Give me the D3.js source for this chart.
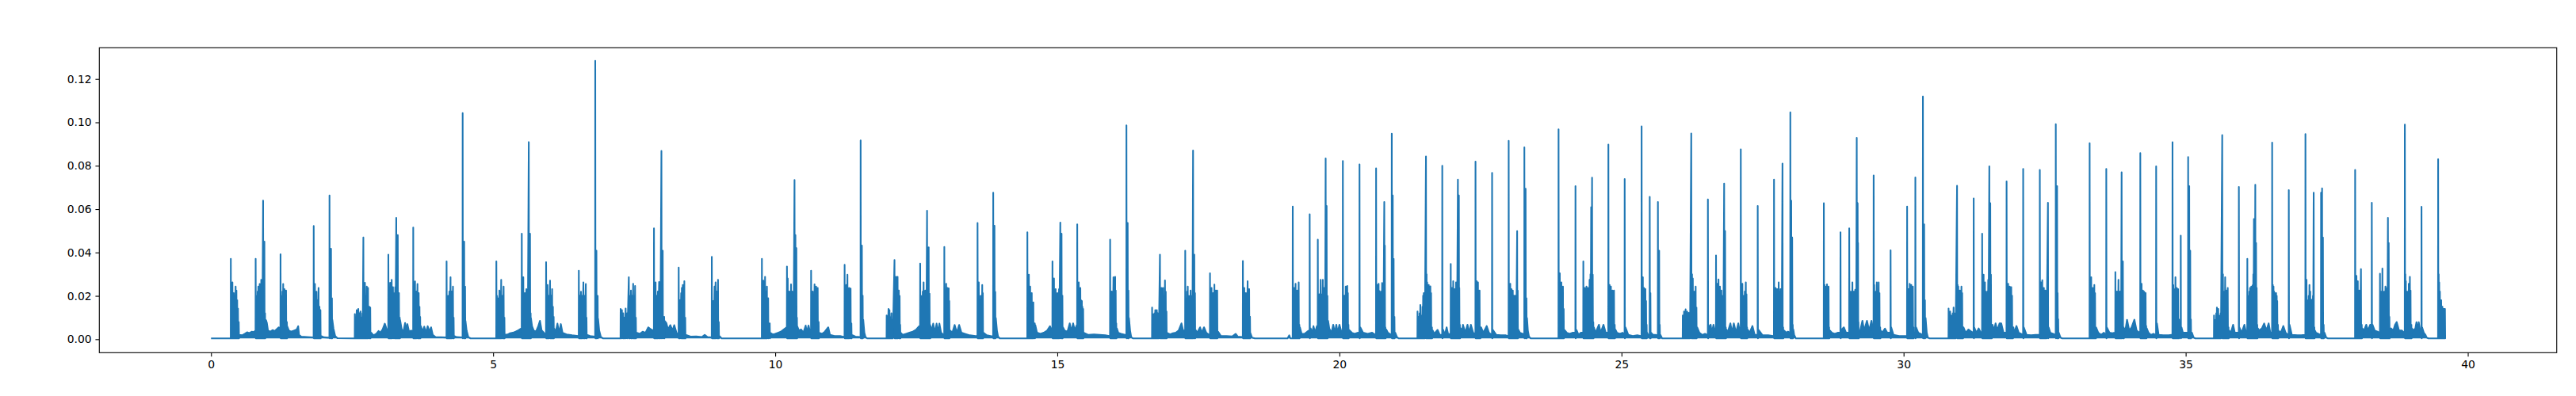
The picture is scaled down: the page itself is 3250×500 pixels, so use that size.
<!DOCTYPE html>
<html><head><meta charset="utf-8">
<script src="https://cdnjs.cloudflare.com/ajax/libs/d3/7.8.5/d3.min.js"></script>
<style>body{margin:0;background:#fff}svg{display:block}</style>
</head><body><svg id="chart" width="3250" height="500"></svg>
<script>
// ---- axis settings ----
const xTicks = [0, 5, 10, 15, 20, 25, 30, 35, 40];
const yTicks = [0, 0.02, 0.04, 0.06, 0.08, 0.10, 0.12];
const xDomain = [-1.98, 41.576];
const yDomain = [-0.0062, 0.1344];
const BASE = 0.0004; // quiet baseline level

// ---- noise floor / baseline trace: [x, value] ----
const floorPts = [
[0,0.0004],[0.34,0.0004],
[0.50,0.002],[0.55,0.0018],[0.60,0.0025],[0.64,0.0032],[0.68,0.0028],[0.72,0.0035],[0.76,0.0033],[0.785,0.004],
[0.975,0.0088],[0.99,0.0075],[1.01,0.004],[1.05,0.0035],[1.09,0.0042],[1.13,0.0038],[1.17,0.0048],[1.20,0.0055],[1.225,0.005],
[1.35,0.006],[1.38,0.004],[1.42,0.0035],[1.47,0.004],[1.52,0.0045],[1.545,0.006],[1.56,0.002],[1.60,0.0012],[1.70,0.001],[1.81,0.0008],
[1.95,0.0015],[2.00,0.0009],[2.09,0.0007],
[2.15,0.009],[2.17,0.005],[2.20,0.0015],[2.24,0.0005],[2.54,0.0004],
[2.84,0.003],[2.88,0.0018],[2.93,0.0025],[2.97,0.0038],[3.00,0.003],[3.04,0.0045],[3.08,0.0072],[3.12,0.004],[3.14,0.003],
[3.35,0.009],[3.38,0.0045],[3.41,0.0035],[3.44,0.0075],[3.46,0.004],[3.48,0.007],[3.51,0.0035],[3.55,0.004],[3.58,0.003],
[3.72,0.006],[3.75,0.0035],[3.78,0.0058],[3.81,0.003],[3.84,0.006],[3.87,0.0035],[3.90,0.0055],[3.93,0.002],[3.98,0.001],[4.17,0.0008],
[4.31,0.0015],[4.35,0.001],[4.45,0.0008],
[4.51,0.0085],[4.53,0.004],[4.56,0.001],[4.60,0.0004],[5.05,0.0004],
[5.21,0.002],[5.26,0.0022],[5.30,0.0028],[5.35,0.003],[5.40,0.0035],[5.45,0.0042],[5.50,0.005],
[5.67,0.0098],[5.69,0.006],[5.72,0.004],[5.76,0.0035],[5.80,0.006],[5.83,0.0085],[5.86,0.004],[5.90,0.003],[5.93,0.002],
[6.08,0.005],[6.11,0.0035],[6.14,0.0072],[6.17,0.003],[6.20,0.007],[6.23,0.003],[6.30,0.0022],[6.40,0.0018],[6.51,0.0015],
[6.66,0.002],[6.72,0.0015],[6.80,0.0012],
[6.86,0.0095],[6.88,0.004],[6.91,0.001],[6.95,0.0004],[7.24,0.0004],
[7.54,0.003],[7.60,0.0025],[7.65,0.0035],[7.70,0.003],[7.75,0.0055],[7.80,0.0045],[7.84,0.004],
[8.04,0.0085],[8.07,0.0075],[8.10,0.0045],[8.14,0.0065],[8.18,0.004],[8.21,0.0065],[8.25,0.003],[8.28,0.002],
[8.42,0.002],[8.50,0.0012],[8.60,0.0013],[8.70,0.001],[8.75,0.002],[8.80,0.001],[8.87,0.0008],
[9.01,0.0015],[9.05,0.0004],[9.75,0.0004],
[9.91,0.003],[9.96,0.0022],[10.00,0.0025],[10.05,0.003],[10.10,0.0035],[10.15,0.0045],[10.20,0.0055],
[10.39,0.006],[10.42,0.004],[10.46,0.0045],[10.50,0.003],[10.54,0.0063],[10.56,0.003],[10.59,0.0063],[10.62,0.003],
[10.78,0.003],[10.83,0.0025],[10.88,0.0035],[10.94,0.0055],[10.97,0.002],[11.05,0.0015],[11.15,0.0015],[11.22,0.001],
[11.36,0.002],[11.42,0.0012],[11.50,0.001],
[11.56,0.009],[11.58,0.003],[11.60,0.001],[11.63,0.0004],[11.96,0.0004],
[12.225,0.003],[12.26,0.002],[12.32,0.0025],[12.38,0.003],[12.44,0.0035],[12.50,0.0045],[12.55,0.006],
[12.755,0.006],[12.77,0.003],[12.80,0.0072],[12.83,0.003],[12.86,0.0072],[12.89,0.003],[12.91,0.0072],[12.94,0.003],[12.98,0.002],
[13.10,0.004],[13.14,0.003],[13.18,0.0066],[13.22,0.003],[13.26,0.0066],[13.30,0.003],[13.36,0.0025],[13.45,0.0018],[13.55,0.0015],
[13.69,0.003],[13.75,0.0018],[13.85,0.0013],
[13.91,0.0098],[13.93,0.004],[13.95,0.0012],[13.98,0.0004],[14.45,0.0004],
[14.61,0.0065],[14.64,0.003],[14.70,0.0025],[14.76,0.003],[14.82,0.004],[14.87,0.006],[14.90,0.004],
[15.10,0.0055],[15.13,0.004],[15.18,0.0035],[15.22,0.0073],[15.25,0.0035],[15.28,0.0073],[15.31,0.004],[15.34,0.0063],
[15.47,0.003],[15.55,0.002],[15.65,0.0022],[15.75,0.002],[15.85,0.0018],[15.92,0.0015],
[16.055,0.005],[16.08,0.003],[16.13,0.0025],[16.20,0.002],
[16.27,0.0098],[16.29,0.004],[16.31,0.001],[16.34,0.0004],[16.67,0.0004],
[16.94,0.003],[17.00,0.0022],[17.05,0.0028],[17.10,0.003],[17.15,0.004],[17.20,0.0073],[17.23,0.004],[17.26,0.004],
[17.45,0.0043],[17.48,0.003],[17.53,0.0055],[17.56,0.003],[17.60,0.0055],[17.64,0.003],[17.69,0.002],
[17.85,0.0035],[17.90,0.0015],[18.00,0.0015],[18.10,0.0013],[18.16,0.0025],[18.20,0.0012],[18.28,0.001],
[18.42,0.003],[18.45,0.0008],[18.50,0.0004],[19.08,0.0004],[19.11,0.0018],[19.13,0.0004],[19.16,0.0004],
[19.30,0.0055],[19.33,0.0025],[19.38,0.0025],[19.43,0.0035],[19.46,0.004],
[19.49,0.005],[19.52,0.003],[19.54,0.006],[19.57,0.003],[19.60,0.006],[19.61,0.004],
[19.80,0.0085],[19.82,0.005],[19.86,0.003],[19.89,0.0067],[19.92,0.003],[19.945,0.0067],[19.97,0.003],[20.00,0.0067],[20.04,0.003],[20.05,0.0025],
[20.17,0.0043],[20.22,0.003],[20.27,0.0025],[20.33,0.003],[20.35,0.002],
[20.37,0.0055],[20.42,0.003],[20.50,0.0025],[20.58,0.003],[20.64,0.002],
[20.83,0.0045],[20.86,0.003],[20.92,0.002],
[20.99,0.003],[21.02,0.001],[21.05,0.0004],[21.37,0.0004],
[21.655,0.004],[21.68,0.0025],[21.74,0.0043],[21.78,0.002],[21.81,0.002],
[21.84,0.0043],[21.87,0.002],[21.90,0.0055],[21.93,0.002],[21.96,0.0025],
[22.15,0.005],[22.17,0.003],[22.19,0.0067],[22.23,0.003],[22.27,0.0067],[22.30,0.003],[22.33,0.0067],[22.37,0.003],[22.40,0.0025],
[22.51,0.0055],[22.55,0.003],[22.61,0.0061],[22.65,0.003],[22.70,0.002],
[22.72,0.0043],[22.78,0.002],[22.86,0.0018],[22.95,0.0018],[22.99,0.0015],
[23.17,0.0045],[23.20,0.003],[23.25,0.0025],[23.27,0.002],
[23.325,0.0098],[23.34,0.004],[23.36,0.0012],[23.39,0.0004],[23.87,0.0004],
[23.99,0.0043],[24.03,0.003],[24.08,0.0025],[24.13,0.003],[24.17,0.003],
[24.20,0.0043],[24.24,0.002],[24.28,0.003],[24.31,0.003],
[24.51,0.0055],[24.54,0.003],[24.60,0.0067],[24.63,0.003],[24.68,0.0067],[24.72,0.003],[24.75,0.003],
[24.89,0.0045],[24.92,0.003],[24.97,0.0025],[25.02,0.003],[25.05,0.002],
[25.07,0.0055],[25.12,0.002],[25.20,0.0015],[25.28,0.0018],[25.34,0.0015],
[25.455,0.003],[25.475,0.0018],[25.49,0.002],
[25.525,0.003],[25.56,0.002],[25.60,0.002],[25.635,0.0018],
[25.69,0.002],[25.72,0.0004],[26.07,0.0004],
[26.34,0.0055],[26.38,0.003],[26.43,0.002],[26.48,0.0025],[26.52,0.002],
[26.54,0.0055],[26.58,0.0067],[26.60,0.003],[26.63,0.0067],[26.66,0.003],
[26.86,0.0045],[26.88,0.003],[26.93,0.0073],[26.96,0.003],[26.99,0.0073],[27.03,0.003],[27.07,0.0073],[27.10,0.003],
[27.235,0.0045],[27.27,0.003],[27.32,0.0061],[27.36,0.002],[27.40,0.002],
[27.43,0.0043],[27.50,0.0018],[27.60,0.0018],[27.69,0.0015],
[27.88,0.004],[27.92,0.003],[27.95,0.0035],[27.98,0.003],
[28.045,0.0045],[28.06,0.002],[28.09,0.0004],[28.57,0.0004],
[28.695,0.004],[28.73,0.003],[28.78,0.0025],[28.83,0.003],[28.87,0.003],
[28.90,0.0043],[28.94,0.0055],[28.98,0.003],[29.02,0.003],
[29.23,0.004],[29.27,0.0085],[29.30,0.004],[29.35,0.0085],[29.39,0.004],[29.43,0.0085],[29.46,0.003],
[29.595,0.004],[29.62,0.003],[29.67,0.0049],[29.71,0.003],[29.75,0.003],
[29.78,0.0055],[29.82,0.002],[29.92,0.0015],[30.00,0.0015],[30.05,0.0015],
[30.19,0.003],
[30.22,0.0055],[30.26,0.003],[30.30,0.0025],[30.33,0.002],
[30.39,0.0098],[30.41,0.003],[30.43,0.0008],[30.46,0.0004],[30.78,0.0004],
[31.06,0.0055],[31.10,0.003],[31.15,0.0045],[31.20,0.0035],[31.23,0.003],
[31.25,0.0055],[31.29,0.003],[31.33,0.005],[31.37,0.003],[31.38,0.003],
[31.575,0.0067],[31.60,0.004],[31.63,0.0073],[31.66,0.004],[31.70,0.0073],[31.73,0.0073],[31.77,0.003],[31.82,0.003],
[31.945,0.0055],[31.96,0.003],[32.00,0.0061],[32.04,0.003],[32.08,0.0025],[32.11,0.002],
[32.13,0.0055],[32.18,0.002],[32.26,0.0018],[32.34,0.002],[32.40,0.002],
[32.57,0.0055],[32.60,0.003],[32.65,0.0025],[32.69,0.002],
[32.75,0.003],[32.78,0.0008],[32.81,0.0004],[33.28,0.0004],
[33.41,0.0055],[33.45,0.003],[33.50,0.002],[33.55,0.003],[33.58,0.002],
[33.60,0.0055],[33.65,0.003],[33.70,0.0028],[33.74,0.003],
[33.91,0.005],[33.93,0.004],[33.96,0.009],[34.00,0.004],[34.04,0.0055],[34.09,0.009],[34.13,0.004],[34.18,0.003],
[34.31,0.005],[34.34,0.003],[34.38,0.002],[34.43,0.0025],[34.46,0.002],
[34.49,0.0073],[34.52,0.002],[34.60,0.0018],[34.70,0.0018],[34.75,0.002],
[34.89,0.005],
[34.925,0.0055],[34.95,0.003],[35.00,0.003],[35.03,0.003],
[35.11,0.003],[35.14,0.0008],[35.17,0.0004],[35.49,0.0004],
[35.77,0.004],[35.80,0.003],[35.84,0.0067],[35.87,0.003],[35.92,0.003],[35.93,0.003],
[35.95,0.0055],[35.99,0.003],[36.04,0.0067],[36.07,0.003],[36.08,0.003],
[36.28,0.005],[36.30,0.004],[36.35,0.005],[36.39,0.0073],[36.43,0.004],[36.47,0.0073],[36.50,0.003],[36.52,0.003],
[36.645,0.004],[36.67,0.003],[36.70,0.004],[36.73,0.0061],[36.77,0.003],[36.81,0.002],
[36.84,0.0067],[36.88,0.002],[36.98,0.0018],[37.05,0.0018],[37.11,0.002],
[37.29,0.004],[37.31,0.003],[37.35,0.0025],[37.39,0.002],
[37.46,0.003],[37.49,0.0008],[37.52,0.0004],[37.99,0.0004],
[38.13,0.005],[38.16,0.004],[38.20,0.0067],[38.23,0.004],[38.27,0.0067],[38.29,0.004],
[38.31,0.0067],[38.35,0.004],[38.40,0.0035],[38.43,0.003],
[38.64,0.005],[38.68,0.004],[38.71,0.0067],[38.74,0.0079],[38.78,0.004],[38.83,0.004],[38.87,0.003],
[39.01,0.005],[39.03,0.004],[39.07,0.005],[39.09,0.0079],[39.12,0.004],[39.13,0.0079],[39.16,0.003],[39.17,0.003],
[39.19,0.0055],[39.22,0.003],[39.25,0.002],[39.27,0.0008],[39.30,0.0004],[39.46,0.0004],
[39.596,0.0005]
];

// ---- spike tips: [x, value] ----
const peaks = [
[0.351,0.0371],[0.365,0.021],[0.379,0.0262],[0.391,0.019],[0.403,0.0213],[0.417,0.02],[0.436,0.0243],[0.45,0.0225],[0.464,0.018],[0.478,0.0142],[0.492,0.008],
[0.791,0.0371],[0.803,0.02],[0.815,0.02],[0.826,0.022],[0.838,0.0243],[0.85,0.024],[0.862,0.0255],[0.876,0.025],[0.89,0.0274],[0.905,0.026],[0.923,0.0639],[0.935,0.03],[0.946,0.045],[0.958,0.012],
[1.232,0.0392],[1.243,0.02],[1.255,0.02],[1.267,0.022],[1.279,0.0255],[1.29,0.02],[1.302,0.0231],[1.316,0.018],[1.33,0.0225],[1.345,0.008],
[1.82,0.0522],[1.831,0.02],[1.842,0.0255],[1.856,0.02],[1.869,0.0219],[1.887,0.018],[1.906,0.0237],[1.922,0.015],[1.939,0.0134],
[2.1,0.0663],[2.127,0.0417],[2.143,0.0189],
[2.549,0.0116],[2.565,0.009],[2.582,0.0134],[2.596,0.01],[2.61,0.014],[2.63,0.012],[2.649,0.0128],[2.667,0.01],[2.684,0.012],[2.7,0.0469],[2.715,0.02],[2.728,0.026],[2.745,0.02],[2.761,0.0243],[2.772,0.02],[2.783,0.0237],[2.805,0.015],[2.822,0.0146],
[3.143,0.039],[3.158,0.02],[3.175,0.026],[3.19,0.02],[3.202,0.0274],[3.225,0.024],[3.25,0.0213],[3.265,0.024],[3.283,0.056],[3.297,0.03],[3.31,0.048],[3.331,0.0213],[3.345,0.01],
[3.584,0.0515],[3.6,0.02],[3.616,0.0267],[3.637,0.022],[3.659,0.0255],[3.67,0.02],[3.681,0.0213],[3.695,0.015],[3.707,0.0103],
[4.175,0.0359],[4.19,0.02],[4.207,0.02],[4.225,0.022],[4.245,0.0286],[4.265,0.022],[4.288,0.0243],[4.3,0.01],
[4.46,0.1043],[4.487,0.045],[4.503,0.0243],
[5.057,0.0359],[5.07,0.02],[5.084,0.0189],[5.098,0.018],[5.111,0.0225],[5.127,0.02],[5.143,0.0274],[5.165,0.02],[5.186,0.0243],[5.2,0.01],
[5.508,0.0487],[5.52,0.022],[5.535,0.0286],[5.548,0.02],[5.562,0.0213],[5.575,0.02],[5.589,0.0231],[5.61,0.022],[5.632,0.0909],[5.654,0.0487],[5.665,0.012],
[5.939,0.0355],[5.952,0.02],[5.965,0.025],[5.985,0.02],[6.009,0.027],[6.028,0.02],[6.046,0.0231],[6.06,0.015],[6.073,0.0103],
[6.519,0.0316],[6.537,0.02],[6.557,0.0219],[6.578,0.02],[6.6,0.0262],[6.62,0.02],[6.643,0.0255],[6.655,0.01],
[6.81,0.1284],[6.831,0.0408],[6.853,0.02],
[7.26,0.014],[7.283,0.0134],[7.305,0.012],[7.325,0.01],[7.349,0.0142],[7.375,0.012],[7.405,0.0286],[7.42,0.02],[7.443,0.0225],[7.46,0.02],[7.482,0.0256],[7.5,0.02],[7.516,0.0246],[7.53,0.01],
[7.851,0.0511],[7.865,0.02],[7.88,0.0262],[7.9,0.02],[7.92,0.022],[7.942,0.0264],[7.96,0.022],[7.983,0.0868],[8.006,0.0408],[8.032,0.0103],
[8.289,0.0331],[8.31,0.018],[8.333,0.0213],[8.345,0.0237],[8.362,0.025],[8.375,0.02],[8.389,0.0268],[8.405,0.01],
[8.876,0.038],[8.89,0.015],[8.907,0.0177],[8.925,0.0243],[8.943,0.0262],[8.965,0.022],[8.986,0.0274],[9.0,0.008],
[9.764,0.0371],[9.778,0.025],[9.79,0.027],[9.805,0.022],[9.82,0.0288],[9.838,0.022],[9.853,0.0243],[9.875,0.0189],[9.903,0.0073],
[10.208,0.0335],[10.222,0.028],[10.235,0.02],[10.25,0.022],[10.265,0.02],[10.28,0.0253],[10.3,0.022],[10.32,0.02],[10.342,0.0734],[10.358,0.048],[10.375,0.042],[10.385,0.01],
[10.636,0.0316],[10.65,0.02],[10.665,0.022],[10.68,0.02],[10.697,0.0253],[10.71,0.02],[10.725,0.0243],[10.74,0.02],[10.753,0.0237],[10.77,0.008],
[11.23,0.0343],[11.245,0.022],[11.26,0.025],[11.28,0.0298],[11.295,0.022],[11.31,0.0237],[11.336,0.0234],[11.35,0.0073],
[11.514,0.0917],[11.536,0.0432],[11.55,0.0201],
[11.975,0.011],[11.99,0.009],[12.008,0.014],[12.025,0.0134],[12.04,0.0102],[12.06,0.012],[12.08,0.009],[12.114,0.0365],[12.128,0.02],[12.142,0.0288],[12.155,0.022],[12.169,0.0288],[12.191,0.0225],[12.205,0.02],[12.215,0.0067],
[12.569,0.0349],[12.585,0.02],[12.6,0.0189],[12.615,0.022],[12.63,0.0262],[12.645,0.022],[12.66,0.0225],[12.675,0.02],[12.691,0.0593],[12.705,0.03],[12.72,0.0424],[12.735,0.021],[12.745,0.0067],
[12.997,0.0426],[13.012,0.02],[13.03,0.0256],[13.042,0.02],[13.053,0.0237],[13.064,0.02],[13.075,0.0235],[13.085,0.0176],
[13.586,0.0536],[13.597,0.02],[13.608,0.0262],[13.625,0.0183],[13.64,0.02],[13.655,0.018],[13.669,0.025],[13.68,0.0213],
[13.864,0.0676],[13.886,0.0523],[13.9,0.0218],
[14.469,0.0493],[14.482,0.02],[14.496,0.0298],[14.51,0.02],[14.519,0.0243],[14.533,0.02],[14.547,0.0213],[14.561,0.015],[14.575,0.017],[14.6,0.0073],
[14.914,0.0359],[14.928,0.022],[14.941,0.028],[14.955,0.022],[14.97,0.0231],[14.985,0.02],[15.0,0.0213],[15.015,0.02],[15.03,0.0231],[15.053,0.0538],[15.075,0.0487],[15.09,0.0201],
[15.353,0.053],[15.366,0.02],[15.38,0.0262],[15.395,0.02],[15.408,0.0237],[15.42,0.018],[15.435,0.0176],[15.445,0.015],[15.458,0.014],
[15.936,0.0459],[15.95,0.02],[15.965,0.022],[15.98,0.02],[15.995,0.0286],[16.01,0.02],[16.025,0.0288],[16.035,0.0225],[16.045,0.0073],
[16.225,0.0986],[16.247,0.0536],[16.26,0.0225],
[16.68,0.0146],[16.695,0.0115],[16.708,0.0103],[16.722,0.012],[16.736,0.0134],[16.75,0.0103],[16.764,0.0134],[16.78,0.012],[16.795,0.011],[16.819,0.039],[16.833,0.02],[16.847,0.0237],[16.862,0.02],[16.875,0.0237],[16.893,0.02],[16.908,0.0271],[16.922,0.0219],[16.935,0.0128],
[17.267,0.0408],[17.28,0.0189],[17.29,0.0189],[17.3,0.022],[17.312,0.0243],[17.325,0.02],[17.337,0.0189],[17.35,0.02],[17.362,0.0225],[17.375,0.02],[17.39,0.02],[17.406,0.087],[17.428,0.039],[17.44,0.0213],
[17.706,0.0304],[17.72,0.02],[17.734,0.0237],[17.748,0.02],[17.76,0.0213],[17.772,0.02],[17.784,0.0252],[17.797,0.02],[17.81,0.0225],[17.822,0.02],[17.834,0.0225],
[18.289,0.0361],[18.3,0.02],[18.314,0.0237],[18.328,0.02],[18.342,0.0213],[18.355,0.02],[18.373,0.0268],[18.386,0.02],[18.4,0.0231],[18.415,0.0104],
[19.173,0.0612],[19.185,0.02],[19.2,0.0237],[19.212,0.02],[19.223,0.0256],[19.238,0.022],[19.25,0.0225],[19.263,0.02],[19.278,0.0262],[19.29,0.0067],
[19.473,0.0576],
[19.617,0.0459],[19.63,0.02],[19.645,0.0207],[19.655,0.02],[19.667,0.0274],[19.68,0.0207],[19.69,0.018],[19.706,0.0274],[19.72,0.02],[19.73,0.0237],[19.742,0.02],[19.756,0.0834],[19.773,0.0615],[19.787,0.02],
[20.061,0.0822],[20.075,0.02],[20.09,0.0201],[20.1,0.02],[20.112,0.0243],[20.125,0.02],[20.139,0.0246],[20.15,0.0213],[20.16,0.0067],
[20.356,0.0806],
[20.65,0.0788],[20.661,0.02],[20.672,0.025],[20.684,0.02],[20.695,0.0256],[20.71,0.0222],[20.725,0.02],[20.74,0.022],[20.756,0.0259],[20.775,0.02],[20.795,0.0633],[20.805,0.0432],[20.815,0.0055],
[20.928,0.0948],[20.945,0.0663],[20.961,0.0371],[20.975,0.0103],
[21.384,0.0128],[21.397,0.01],[21.409,0.0104],[21.42,0.012],[21.434,0.0158],[21.447,0.011],[21.459,0.0109],[21.472,0.015],[21.484,0.0201],[21.495,0.0213],[21.51,0.015],[21.534,0.0843],[21.545,0.03],[21.556,0.0262],[21.57,0.022],[21.584,0.025],[21.598,0.022],[21.612,0.0244],[21.625,0.0213],[21.64,0.0055],
[21.823,0.08],
[21.973,0.0347],[21.985,0.02],[21.995,0.0237],[22.006,0.02],[22.017,0.0268],[22.03,0.02],[22.04,0.0231],[22.053,0.02],[22.067,0.0262],[22.08,0.022],[22.1,0.0736],[22.117,0.0663],[22.125,0.0237],[22.135,0.0067],
[22.412,0.0819],[22.423,0.022],[22.434,0.0268],[22.445,0.022],[22.456,0.0262],[22.47,0.02],[22.484,0.0225],[22.495,0.0055],
[22.706,0.0767],
[23.0,0.0915],[23.014,0.025],[23.028,0.0256],[23.04,0.02],[23.05,0.0231],[23.062,0.02],[23.073,0.0225],[23.09,0.02],[23.11,0.0201],[23.13,0.02],[23.15,0.0499],[23.16,0.0225],
[23.278,0.0885],[23.3,0.0694],[23.315,0.0189],
[23.884,0.0968],[23.895,0.025],[23.906,0.0304],[23.92,0.022],[23.934,0.0262],[23.948,0.02],[23.962,0.0243],[23.975,0.014],
[24.184,0.0706],
[24.323,0.0359],[24.335,0.02],[24.35,0.0237],[24.365,0.02],[24.379,0.0243],[24.392,0.02],[24.406,0.0237],[24.42,0.022],[24.434,0.0274],[24.45,0.03],[24.462,0.0609],[24.478,0.0745],[24.49,0.0298],[24.5,0.0079],
[24.767,0.0898],[24.778,0.025],[24.789,0.025],[24.8,0.022],[24.812,0.0243],[24.825,0.022],[24.839,0.0225],[24.852,0.02],[24.867,0.0225],[24.88,0.0067],
[25.056,0.0739],
[25.356,0.0982],[25.367,0.025],[25.378,0.0286],[25.39,0.022],[25.4,0.0237],[25.411,0.02],[25.423,0.0231],[25.435,0.0176],[25.445,0.0067],
[25.5,0.0657],[25.512,0.0213],
[25.645,0.0633],[25.667,0.0408],[25.678,0.0067],
[26.086,0.011],[26.097,0.01],[26.108,0.0128],[26.12,0.011],[26.136,0.0138],[26.15,0.012],[26.164,0.0128],[26.178,0.011],[26.192,0.0122],[26.21,0.012],[26.236,0.0949],[26.25,0.03],[26.264,0.028],[26.277,0.022],[26.29,0.0201],[26.302,0.022],[26.314,0.0243],[26.328,0.0146],
[26.531,0.0645],
[26.675,0.0386],[26.686,0.022],[26.697,0.0256],[26.708,0.022],[26.719,0.0276],[26.73,0.022],[26.745,0.0243],[26.758,0.02],[26.77,0.0225],[26.785,0.02],[26.8,0.0176],[26.819,0.0718],[26.836,0.0499],[26.848,0.0055],
[27.114,0.0876],[27.128,0.025],[27.142,0.0256],[27.156,0.02],[27.17,0.0201],[27.185,0.022],[27.203,0.0262],[27.215,0.0207],[27.225,0.0055],
[27.414,0.0615],
[27.703,0.0736],[27.717,0.022],[27.731,0.0237],[27.745,0.022],[27.758,0.0231],[27.772,0.022],[27.786,0.0262],[27.8,0.022],[27.818,0.0231],[27.835,0.02],[27.853,0.081],[27.865,0.0055],
[27.992,0.1046],[28.008,0.0639],[28.025,0.0469],[28.035,0.0067],
[28.586,0.0627],[28.6,0.025],[28.614,0.0243],[28.628,0.022],[28.642,0.0253],[28.656,0.022],[28.67,0.0243],[28.68,0.0055],
[28.881,0.0493],
[29.036,0.0511],[29.05,0.022],[29.064,0.0201],[29.078,0.022],[29.092,0.0262],[29.105,0.022],[29.118,0.0213],[29.13,0.022],[29.142,0.0228],[29.155,0.02],[29.169,0.0929],[29.185,0.0627],[29.192,0.0444],[29.2,0.0079],
[29.469,0.0755],[29.48,0.025],[29.497,0.0207],[29.51,0.022],[29.525,0.0262],[29.54,0.022],[29.558,0.0262],[29.572,0.0213],[29.585,0.0055],
[29.769,0.041],
[30.062,0.0612],[30.075,0.022],[30.086,0.0231],[30.097,0.022],[30.108,0.0256],[30.122,0.022],[30.136,0.025],[30.15,0.022],[30.164,0.0243],[30.175,0.0055],
[30.208,0.0746],
[30.342,0.1119],[30.364,0.053],[30.378,0.018],
[30.797,0.0142],[30.81,0.011],[30.825,0.0128],[30.84,0.011],[30.855,0.0104],[30.87,0.012],[30.886,0.0146],[30.9,0.012],[30.918,0.0115],[30.947,0.0708],[30.958,0.025],[30.969,0.0243],[30.98,0.022],[30.997,0.0225],[31.01,0.022],[31.025,0.0243],[31.038,0.0213],[31.05,0.0055],
[31.242,0.0649],
[31.392,0.0487],[31.405,0.025],[31.418,0.0298],[31.43,0.022],[31.442,0.0262],[31.455,0.022],[31.47,0.0201],[31.485,0.022],[31.5,0.0274],[31.519,0.0797],[31.536,0.0627],[31.548,0.0298],[31.56,0.0055],
[31.825,0.0728],[31.839,0.025],[31.853,0.0256],[31.867,0.022],[31.881,0.0243],[31.895,0.022],[31.908,0.024],[31.922,0.0201],[31.935,0.0055],
[32.119,0.0785],
[32.414,0.0781],[32.425,0.025],[32.436,0.0262],[32.447,0.022],[32.458,0.0272],[32.472,0.022],[32.486,0.0237],[32.5,0.022],[32.514,0.0225],[32.53,0.0098],[32.558,0.0629],
[32.697,0.0992],[32.72,0.0706],[32.73,0.0213],[32.74,0.0092],
[33.297,0.0904],[33.31,0.025],[33.325,0.0286],[33.34,0.022],[33.352,0.0237],[33.366,0.022],[33.38,0.025],[33.393,0.0213],[33.405,0.0055],
[33.592,0.0785],
[33.753,0.031],[33.767,0.022],[33.78,0.0219],[33.794,0.022],[33.808,0.0274],[33.822,0.022],[33.836,0.0219],[33.85,0.022],[33.864,0.077],[33.886,0.0359],[33.9,0.0055],
[34.195,0.0858],[34.207,0.025],[34.218,0.0256],[34.23,0.022],[34.242,0.0225],[34.255,0.022],[34.265,0.0219],[34.277,0.02],[34.289,0.0213],[34.3,0.0061],
[34.476,0.0797],
[34.766,0.0909],[34.78,0.025],[34.792,0.0231],[34.805,0.022],[34.818,0.0286],[34.83,0.022],[34.842,0.0237],[34.853,0.022],[34.865,0.0231],[34.88,0.0091],
[34.912,0.0478],
[35.043,0.084],[35.062,0.0706],[35.08,0.0408],[35.092,0.0091],
[35.502,0.011],[35.515,0.009],[35.53,0.0073],[35.541,0.012],[35.553,0.0146],[35.565,0.012],[35.577,0.014],[35.59,0.011],[35.605,0.0104],[35.62,0.012],[35.647,0.0941],[35.66,0.03],[35.673,0.0219],[35.686,0.022],[35.699,0.0286],[35.71,0.022],[35.722,0.0225],[35.733,0.02],[35.745,0.0237],[35.758,0.0055],
[35.942,0.0702],
[36.092,0.0371],[36.103,0.02],[36.115,0.0146],[36.128,0.022],[36.14,0.0237],[36.15,0.02],[36.162,0.0243],[36.175,0.022],[36.186,0.0249],[36.198,0.03],[36.209,0.0554],[36.22,0.04],[36.233,0.0712],[36.247,0.0444],[36.258,0.0237],[36.268,0.0067],
[36.532,0.0907],[36.544,0.025],[36.556,0.0243],[36.567,0.022],[36.579,0.0213],[36.59,0.02],[36.602,0.0213],[36.613,0.02],[36.622,0.0176],[36.635,0.0067],
[36.827,0.0688],
[37.122,0.0946],[37.131,0.025],[37.141,0.0274],[37.155,0.018],[37.165,0.014],[37.18,0.02],[37.193,0.025],[37.207,0.022],[37.22,0.0183],[37.24,0.0183],[37.255,0.02],[37.268,0.0676],[37.28,0.0055],
[37.399,0.0676],[37.417,0.0696],[37.432,0.0469],[37.445,0.0067],
[38.003,0.0781],[38.014,0.025],[38.026,0.0292],[38.038,0.022],[38.05,0.0268],[38.062,0.022],[38.074,0.0225],[38.086,0.022],[38.106,0.0323],[38.12,0.0067],
[38.298,0.0629],
[38.443,0.0302],[38.455,0.022],[38.465,0.0213],[38.476,0.022],[38.486,0.0326],[38.497,0.022],[38.51,0.0201],[38.525,0.022],[38.54,0.0243],[38.555,0.022],[38.57,0.0237],[38.584,0.056],[38.598,0.0444],[38.61,0.0103],
[38.884,0.099],[38.893,0.03],[38.902,0.0268],[38.915,0.022],[38.93,0.0201],[38.942,0.022],[38.954,0.0256],[38.964,0.024],[38.973,0.0288],[38.985,0.0225],[39.0,0.0067],
[39.179,0.0611],
[39.474,0.083],[39.484,0.03],[39.493,0.0262],[39.505,0.022],[39.516,0.0176],[39.528,0.018],[39.539,0.0152],[39.55,0.015],[39.567,0.014],[39.58,0.014],[39.595,0.014]
];

// ---- layout ----
const W = 3250, H = 500;
const plot = {left: 125.3, right: 3225.7, top: 60.3, bottom: 445.3};
const COLOR = '#1f77b4';
const FONT = '"DejaVu Sans", sans-serif';

const svg = d3.select('#chart');
svg.append('rect').attr('width', W).attr('height', H).attr('fill', '#fff');

const x = d3.scaleLinear().domain(xDomain).range([plot.left, plot.right]);
const y = d3.scaleLinear().domain(yDomain).range([plot.bottom, plot.top]);

// merge floor trace and spike tips into one ordered polyline
const events = floorPts.map(d => ({x: d[0], y: d[1], peak: false}))
  .concat(peaks.map(d => ({x: d[0], y: d[1], peak: true})))
  .sort((a, b) => a.x - b.x);
const verts = [];
let last = null;
for (const e of events) {
  if (!e.peak) { verts.push([e.x, e.y]); last = e; continue; }
  const isolated = !last || !last.peak || (e.x - last.x) > 0.04;
  if (isolated) verts.push([e.x - 0.002, last ? (last.peak ? BASE : last.y) : BASE]);
  verts.push([e.x, e.y]);
  verts.push([e.x + 0.004, BASE]);
  last = e;
}

const clip = svg.append('clipPath').attr('id', 'clip').append('rect')
  .attr('x', plot.left).attr('y', plot.top)
  .attr('width', plot.right - plot.left).attr('height', plot.bottom - plot.top);

const g = svg.append('g').attr('clip-path', 'url(#clip)');
const area = d3.area().x(d => x(d[0])).y0(y(BASE)).y1(d => y(d[1]));
const line = d3.line().x(d => x(d[0])).y(d => y(d[1]));
g.append('path').attr('d', area(verts)).attr('fill', COLOR).attr('stroke', 'none');
g.append('path').attr('d', line(verts)).attr('fill', 'none').attr('stroke', COLOR)
  .attr('stroke-width', 2.08).attr('stroke-linejoin', 'round').attr('stroke-linecap', 'butt');

// axes
const tickLen = 4.86, tickPad = 4.86;
const xAxis = d3.axisBottom(x).tickValues(xTicks).tickFormat(d3.format('d'))
  .tickSize(tickLen).tickSizeOuter(0).tickPadding(tickPad);
const yAxis = d3.axisLeft(y).tickValues(yTicks).tickFormat(d3.format('.2f'))
  .tickSize(tickLen).tickSizeOuter(0).tickPadding(tickPad);

const gx = svg.append('g').attr('transform', `translate(0,${plot.bottom})`).call(xAxis);
const gy = svg.append('g').attr('transform', `translate(${plot.left},0)`).call(yAxis);
[gx, gy].forEach(a => {
  a.select('.domain').remove();
  a.selectAll('.tick line').attr('stroke', '#000').attr('stroke-width', 1.11);
  a.selectAll('.tick text').attr('fill', '#000').style('font-family', FONT).style('font-size', '13.9px');
});

// frame
svg.append('rect').attr('x', plot.left).attr('y', plot.top)
  .attr('width', plot.right - plot.left).attr('height', plot.bottom - plot.top)
  .attr('fill', 'none').attr('stroke', '#000').attr('stroke-width', 1.11);
</script>
</body></html>
